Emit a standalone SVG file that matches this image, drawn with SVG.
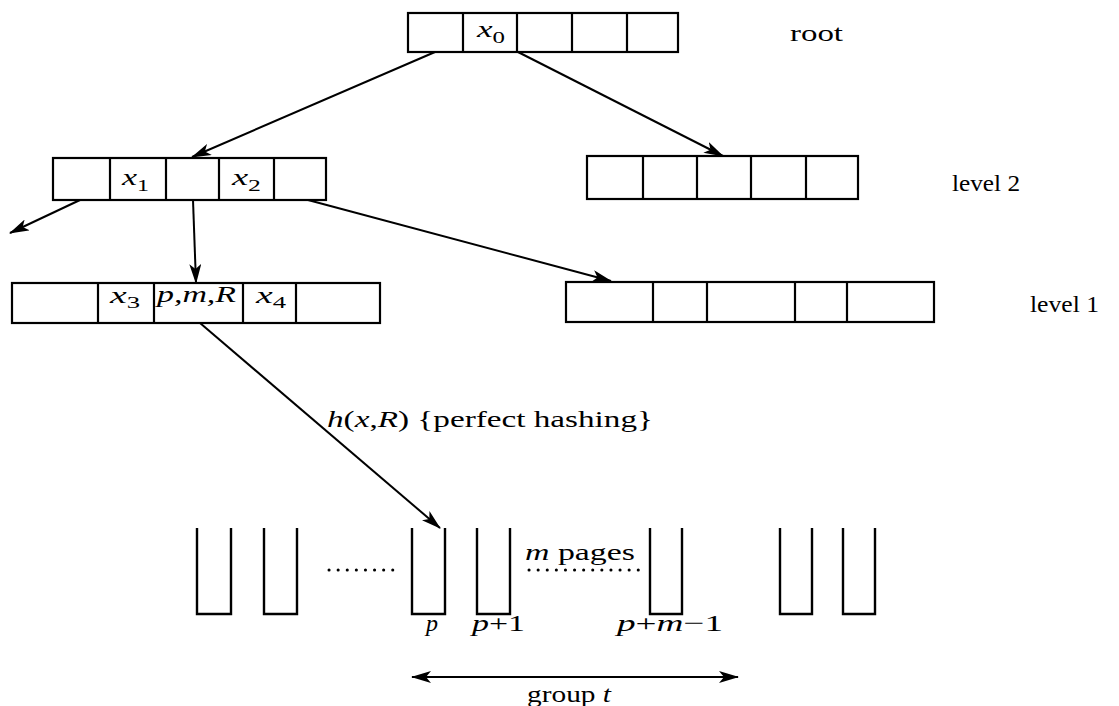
<svg xmlns="http://www.w3.org/2000/svg" width="1119" height="706" viewBox="0 0 1119 706">
<style>
.box{fill:#fff;stroke:#000;stroke-width:2.2}
.ln{fill:none;stroke:#000;stroke-width:2.2}
.pg{fill:none;stroke:#000;stroke-width:2.4}
.ed{fill:none;stroke:#000;stroke-width:2}
.dot{fill:none;stroke:#000;stroke-width:3;stroke-dasharray:0.1 9;stroke-linecap:round}
text{font-family:"Liberation Serif","DejaVu Serif",serif;font-size:24px;fill:#000}
.m{font-style:italic}
.s{font-size:17px;font-style:normal}
</style>
<defs>
<marker id="ah" viewBox="0 0 20 12" refX="19" refY="6" markerWidth="20" markerHeight="12" markerUnits="userSpaceOnUse" orient="auto-start-reverse">
<path d="M0,0 L20,6 L0,12 L5,6 Z" fill="#000"/>
</marker>
</defs>
<g id="root">
<rect class="box" x="408" y="13" width="270" height="39"/>
<path class="ln" d="M463,13V52M517,13V52M572,13V52M627,13V52"/>
<text x="477" y="37" class="m" textLength="28" lengthAdjust="spacingAndGlyphs">x<tspan class="s" dy="6">0</tspan></text>
</g>
<text x="790" y="41" textLength="53" lengthAdjust="spacingAndGlyphs">root</text>
<g id="l2left">
<rect class="box" x="53" y="158" width="273" height="42"/>
<path class="ln" d="M110,158V200M166,158V200M219,158V200M274,158V200"/>
<text x="122" y="185" class="m" textLength="27" lengthAdjust="spacingAndGlyphs">x<tspan class="s" dy="6">1</tspan></text>
<text x="232" y="185" class="m" textLength="29" lengthAdjust="spacingAndGlyphs">x<tspan class="s" dy="6">2</tspan></text>
</g>
<g id="l2right">
<rect class="box" x="587" y="156" width="271" height="43"/>
<path class="ln" d="M643,156V199M697,156V199M751,156V199M806,156V199"/>
</g>
<text x="952" y="191" textLength="68" lengthAdjust="spacingAndGlyphs">level 2</text>
<g id="l1left">
<rect class="box" x="12" y="283" width="368" height="40"/>
<path class="ln" d="M98,283V323M154,283V323M243,283V323M296,283V323"/>
<text x="110" y="303" class="m" textLength="30" lengthAdjust="spacingAndGlyphs">x<tspan class="s" dy="5">3</tspan></text>
<text x="157" y="302" class="m" textLength="79" lengthAdjust="spacingAndGlyphs">p,m,R</text>
<text x="256" y="303" class="m" textLength="30" lengthAdjust="spacingAndGlyphs">x<tspan class="s" dy="5">4</tspan></text>
</g>
<g id="l1right">
<rect class="box" x="566" y="282" width="368" height="40"/>
<path class="ln" d="M653,282V322M707,282V322M795,282V322M847,282V322"/>
</g>
<text x="1030" y="312" textLength="69" lengthAdjust="spacingAndGlyphs">level 1</text>
<g id="pages">
<path class="pg" d="M197,528V614H231V528"/>
<path class="pg" d="M264,528V614H297V528"/>
<path class="pg" d="M412,528V614H445V528"/>
<path class="pg" d="M477,528V614H510V528"/>
<path class="pg" d="M650,528V614H682V528"/>
<path class="pg" d="M780,528V614H812V528"/>
<path class="pg" d="M843,528V614H875V528"/>
<line class="dot" x1="329" y1="570" x2="396" y2="570"/>
<line class="dot" x1="529" y1="570" x2="639" y2="570"/>
<text x="525" y="560" textLength="110" lengthAdjust="spacingAndGlyphs"><tspan class="m">m</tspan> pages</text>
<text x="426" y="631" class="m" textLength="12" lengthAdjust="spacingAndGlyphs">p</text>
<text x="472" y="631" textLength="53" lengthAdjust="spacingAndGlyphs"><tspan class="m">p</tspan>+1</text>
<text x="617" y="631" textLength="106" lengthAdjust="spacingAndGlyphs"><tspan class="m">p</tspan>+<tspan class="m">m</tspan>−1</text>
</g>
<g id="connectors">
<line class="ed" x1="435" y1="52" x2="192" y2="157" marker-end="url(#ah)"/>
<line class="ed" x1="518" y1="52" x2="723" y2="156" marker-end="url(#ah)"/>
<line class="ed" x1="80" y1="200" x2="10" y2="233" marker-end="url(#ah)"/>
<line class="ed" x1="193" y1="200" x2="196" y2="283" marker-end="url(#ah)"/>
<line class="ed" x1="308" y1="200" x2="611" y2="281" marker-end="url(#ah)"/>
<line class="ed" x1="200" y1="323" x2="440" y2="528" marker-end="url(#ah)"/>
<line class="ed" x1="412" y1="677" x2="738" y2="677" marker-start="url(#ah)" marker-end="url(#ah)"/>
</g>
<text x="327" y="427" textLength="326" lengthAdjust="spacingAndGlyphs"><tspan class="m">h</tspan>(<tspan class="m">x</tspan>,<tspan class="m">R</tspan>) {perfect hashing}</text>
<text x="527" y="702" textLength="84" lengthAdjust="spacingAndGlyphs">group <tspan class="m">t</tspan></text>
</svg>
